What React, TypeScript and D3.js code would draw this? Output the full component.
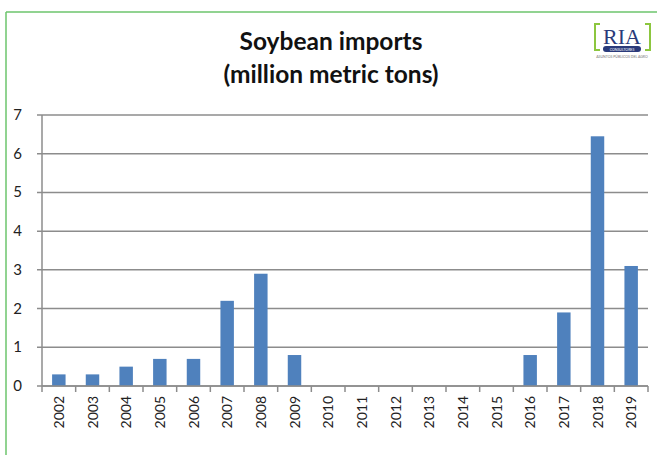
import * as d3 from 'd3';

const years = ['2002', '2003', '2004', '2005', '2006', '2007', '2008', '2009', '2010', '2011', '2012', '2013', '2014', '2015', '2016', '2017', '2018', '2019'];
const imports = [0.3, 0.3, 0.5, 0.7, 0.7, 2.2, 2.9, 0.8, 0, 0, 0, 0, 0, 0, 0.8, 1.9, 6.45, 3.1];
const yTicks = [0, 1, 2, 3, 4, 5, 6, 7];

const W = 657;
const H = 455;
const plot = { left: 42, right: 648, top: 115, bottom: 386 };
const font = 'Lato, "Open Sans", sans-serif';

export default function App() {
  const x = d3.scaleBand<string>()
    .domain(years)
    .range([plot.left, plot.right])
    .paddingInner(0.6)
    .paddingOuter(0.3);
  const band = d3.scaleBand<string>().domain(years).range([plot.left, plot.right]);
  const y = d3.scaleLinear().domain([0, 7]).range([plot.bottom, plot.top]);

  return (
    <svg width={W} height={H} style={{ position: 'absolute', left: 0, top: 0, background: '#fff' }}>
      {/* frame */}
      <line x1={6} y1={12} x2={W} y2={12} stroke="#6cc46c" strokeWidth={1.5} />
      <line x1={6} y1={12} x2={6} y2={H} stroke="#6cc46c" strokeWidth={1.5} />

      {/* title */}
      <text x={331} y={50} textAnchor="middle" fontFamily={font} fontWeight={700} fontSize={24.5} fill="#111">Soybean imports</text>
      <text x={331} y={83} textAnchor="middle" fontFamily={font} fontWeight={700} fontSize={24.5} fill="#111">(million metric tons)</text>

      {/* logo */}
      <g>
        <path d="M600,24 h-5 v26 h5" fill="none" stroke="#8cc63f" strokeWidth={2} />
        <path d="M645,24 h5 v26 h-5" fill="none" stroke="#8cc63f" strokeWidth={2} />
        <text x={622} y={44} textAnchor="middle" fontFamily="'Liberation Serif', serif" fontSize={22} fill="#2a3a7a">RIA</text>
        <rect x={603} y={46} width={38} height={6} rx={3} fill="#2a3a7a" />
        <text x={622} y={50.5} textAnchor="middle" fontFamily={font} fontSize={3.5} fill="#fff">CONSULTORES</text>
        <text x={622} y={58} textAnchor="middle" fontFamily={font} fontSize={3.5} fill="#777">ASUNTOS PÚBLICOS DEL AGRO</text>
      </g>

      {/* gridlines */}
      {yTicks.map(t => (
        <g key={t}>
          <line x1={plot.left - 5} x2={plot.right} y1={y(t)} y2={y(t)} stroke="#8c8c8c" strokeWidth={1.5} />
          <text x={22} y={y(t) + 5} textAnchor="end" fontFamily={font} fontSize={15} fill="#222">{t}</text>
        </g>
      ))}

      {/* bars */}
      {years.map((yr, i) => imports[i] > 0 && (
        <rect key={yr} x={x(yr)} y={y(imports[i])} width={x.bandwidth()} height={y(0) - y(imports[i])} fill="#4f81bd" />
      ))}

      {/* axes */}
      <line x1={plot.left} x2={plot.left} y1={plot.top} y2={plot.bottom} stroke="#8c8c8c" strokeWidth={1.5} />
      <line x1={plot.left} x2={plot.right} y1={plot.bottom} y2={plot.bottom} stroke="#8c8c8c" strokeWidth={1.5} />
      {[...years.map(yr => band(yr)!), plot.right].map((tx, i) => (
        <line key={i} x1={tx} x2={tx} y1={plot.bottom} y2={plot.bottom + 6} stroke="#8c8c8c" strokeWidth={1.5} />
      ))}
      {years.map(yr => {
        const cx = band(yr)! + band.bandwidth() / 2;
        return (
          <text key={yr} transform={`translate(${cx + 5},${plot.bottom + 10}) rotate(-90)`} textAnchor="end" fontFamily={font} fontSize={14} fill="#222">{yr}</text>
        );
      })}
    </svg>
  );
}
